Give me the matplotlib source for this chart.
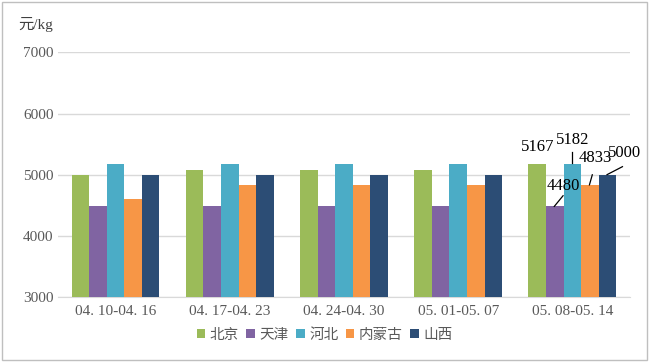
import matplotlib.pyplot as plt
import numpy as np

plt.rcParams['font.family'] = ['Liberation Serif', 'Noto Sans CJK SC']

weeks = ['04.10-04.16', '04.17-04.23', '04.24-04.30', '05.01-05.07', '05.08-05.14']
regions = ['北京', '天津', '河北', '内蒙古', '山西']
beijing = [5000, 5083, 5083, 5083, 5167]
tianjin = [4480, 4480, 4480, 4480, 4480]
hebei = [5167, 5167, 5167, 5167, 5182]
neimenggu = [4600, 4833, 4833, 4833, 4833]
shanxi = [5000, 5000, 5000, 5000, 5000]
colors = ['#9bbb59', '#8064a2', '#4bacc6', '#f79646', '#2c4d75']

series = [beijing, tianjin, hebei, neimenggu, shanxi]

fig = plt.figure(figsize=(6.49, 3.62), dpi=100)
ax = fig.add_axes([0.09, 0.18, 0.88, 0.675])

x = np.arange(len(weeks))
w = 0.154
for i, (vals, c, name) in enumerate(zip(series, colors, regions)):
    ax.bar(x + (i - 2) * w, vals, width=w, color=c, label=name, zorder=3)

ax.set_ylim(3000, 7000)
ax.set_xlim(-0.5, 4.5)
ax.set_yticks([3000, 4000, 5000, 6000, 7000])
ax.yaxis.grid(True, color='#d9d9d9', lw=1, zorder=0)
for s in ['top', 'right', 'left']:
    ax.spines[s].set_visible(False)
ax.spines['bottom'].set_color('#d9d9d9')
ax.tick_params(length=0, colors='#595959', labelsize=11)
ax.tick_params(axis='x', pad=6)
ax.set_xticks(x)
ax.set_xticklabels([wk.replace('.', '. ') for wk in weeks])

ax.text(-0.07, 1.115, '元/kg', transform=ax.transAxes, fontsize=11, color='#404040', va='center')

# data labels with leader lines on the last week
last = 4
# (text dx, text dy, line end dx, line end dy)
offsets = [(0.0, 290, None, None), (0.075, 340, 0.072, 175), (0.0, 392, 0.0, 180),
           (0.05, 446, 0.02, 165), (0.145, 361, 0.13, 131)]
for i, vals in enumerate(series):
    xb = last + (i - 2) * w
    v = vals[last]
    dx, dy, lx, ly = offsets[i]
    ax.text(xb + dx, v + dy, str(v), ha='center', va='center', fontsize=12, color='#000000', zorder=5)
    if lx is not None:
        if i == 2:
            ax.plot([xb, xb], [v + 15, v + ly + 15], color='black', lw=0.9, zorder=5)
        else:
            ax.plot([xb - 0.005, xb + lx], [v, v + ly], color='black', lw=0.9, zorder=5)

fig.legend(*ax.get_legend_handles_labels(), loc='center', bbox_to_anchor=(0.5, 0.075), ncol=5,
           frameon=False, handlelength=0.6, handleheight=0.6, handletextpad=0.3,
           columnspacing=0.5, fontsize=10.5, labelcolor='#595959')

fig.patches.append(plt.Rectangle((0.003, 0.005), 0.994, 0.99, transform=fig.transFigure,
                                 fill=False, edgecolor='#bfbfbf', lw=1))
fig.savefig('out.png', dpi=100)
